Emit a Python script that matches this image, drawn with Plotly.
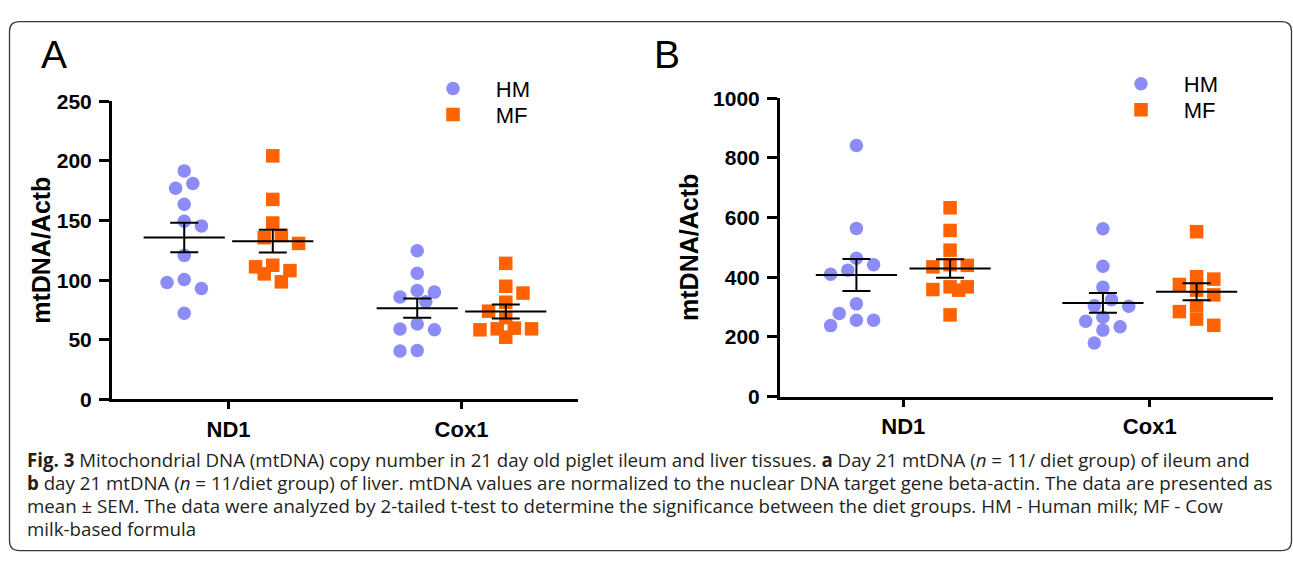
import numpy as np
import plotly.graph_objects as go

# ---------------- data ----------------
categories = ["ND1", "Cox1"]
groups = ["HM", "MF"]

ileum_HM_ND1 = [191.6, 181.1, 177.1, 163.7, 149.3, 145.5, 120.8, 100.5, 98.1, 93.0, 72.3]
ileum_MF_ND1 = [204.2, 167.7, 147.9, 137.5, 135.6, 130.8, 112.5, 111.2, 108.0, 105.3, 98.6]
ileum_HM_Cox1 = [124.6, 105.8, 91.4, 90.0, 86.0, 82.0, 63.2, 59.0, 58.4, 41.0, 40.7]
ileum_MF_Cox1 = [114.1, 94.9, 89.2, 81.5, 74.0, 68.6, 59.8, 59.2, 59.2, 58.4, 52.2]

liver_HM_ND1 = [842, 564, 464, 442, 424, 410, 311, 279, 256, 256, 238]
liver_MF_ND1 = [633, 557, 491, 442, 440, 435, 368, 368, 359, 357, 274]
liver_HM_Cox1 = [563, 437, 367, 325, 305, 303, 266, 253, 234, 223, 180]
liver_MF_Cox1 = [553, 402, 394, 376, 357, 341, 305, 285, 260, 239]

ileum_ticks = [0, 50, 100, 150, 200, 250]
liver_ticks = [0, 200, 400, 600, 800, 1000]

y_title = "mtDNA/Actb"
caption_lines = [
    "<b>Fig. 3</b> Mitochondrial DNA (mtDNA) copy number in 21 day old piglet ileum and liver tissues. "
    "<b>a</b> Day 21 mtDNA (<i>n</i> = 11/ diet group) of ileum and",
    "<b>b</b> day 21 mtDNA (<i>n</i> = 11/diet group) of liver. mtDNA values are normalized to the nuclear "
    "DNA target gene beta-actin. The data are presented as",
    "mean ± SEM. The data were analyzed by 2-tailed t-test to determine the significance between the "
    "diet groups. HM - Human milk; MF - Cow",
    "milk-based formula",
]

# ---------------- layout helpers ----------------
W, H = 1293, 563
def px2x(px):
    return px / W
def py2y(py):
    return 1 - py / H

FONT = "Liberation Sans, Arial, sans-serif"
HM_COLOR = "#8c8cf8"
MF_COLOR = "#ff6200"
MARK = 13.5

# panel geometry (pixels)
panels = {
    "A": dict(x0=112, x1=578, ytop=93, ybot=404, ymax=250, ticks=ileum_ticks,
              data={"HM": [ileum_HM_ND1, ileum_HM_Cox1], "MF": [ileum_MF_ND1, ileum_MF_Cox1]}),
    "B": dict(x0=780, x1=1273, ytop=90, ybot=401, ymax=1000, ticks=liver_ticks,
              data={"HM": [liver_HM_ND1, liver_HM_Cox1], "MF": [liver_MF_ND1, liver_MF_Cox1]}),
}


def swarm_offsets(vals, px_per_val, thr, step):
    """Simple beeswarm: horizontal pixel offsets (multiples of step) limiting overlap."""
    n = len(vals)
    ys = [v * px_per_val for v in vals]
    order = sorted(range(n), key=lambda i: -vals[i])
    placed, off = [], [0.0] * n
    side = 1
    for i in order:
        cands = [0, side, -side, 2 * side, -2 * side, 3 * side, -3 * side]
        best, best_pen = 0, None
        for c in cands:
            x = c * step
            dmin = min([np.hypot(x - px, ys[i] - py) for px, py in placed] or [1e9])
            pen = max(0.0, thr - dmin)
            if pen == 0:
                best, best_pen = c, 0
                break
            if best_pen is None or pen < best_pen - 1e-9:
                best, best_pen = c, pen
        if best != 0:
            side = -side
        placed.append((best * step, ys[i]))
        off[i] = best * step
    return off


fig = go.Figure()
group_shift = {"HM": -0.19, "MF": 0.19}
symbols = {"HM": "circle", "MF": "square"}
colors = {"HM": HM_COLOR, "MF": MF_COLOR}
legend_ids = {("A", "HM"): "legend", ("A", "MF"): "legend2",
              ("B", "HM"): "legend3", ("B", "MF"): "legend4"}
PAD = "\u00a0\u00a0\u00a0\u2009"

for pi, (pname, p) in enumerate(panels.items()):
    xa = "x" if pi == 0 else "x2"
    ya = "y" if pi == 0 else "y2"
    unit_px = (p["x1"] - p["x0"]) / 2.0          # px per category unit (range -0.5..1.5)
    px_per_val = (p["ybot"] - p["ytop"]) / p["ymax"]
    for g in groups:
        xs, ys = [], []
        for ci, vals in enumerate(p["data"][g]):
            offs = swarm_offsets(vals, px_per_val, 13.5, 8.6)
            xs += [ci + group_shift[g] + o / unit_px for o in offs]
            ys += list(vals)
        fig.add_trace(go.Scatter(
            x=xs, y=ys, mode="markers", name=PAD + g,
            xaxis=xa, yaxis=ya, legend=legend_ids[(pname, g)],
            marker=dict(symbol=symbols[g], size=MARK, color=colors[g], line=dict(width=0)),
            hoverinfo="y", cliponaxis=False,
        ))
    # mean +/- SEM
    for g in groups:
        mx, my, me = [], [], []
        for ci, vals in enumerate(p["data"][g]):
            arr = np.asarray(vals, dtype=float)
            mx.append(ci + group_shift[g])
            my.append(arr.mean())
            me.append(arr.std(ddof=1) / np.sqrt(len(arr)))
        fig.add_trace(go.Scatter(
            x=mx, y=my, mode="markers", showlegend=False, xaxis=xa, yaxis=ya,
            marker=dict(symbol="line-ew", size=58, color="black",
                        line=dict(width=2, color="black")),
            error_y=dict(type="data", array=me, visible=True, color="black",
                         thickness=2, width=14),
            hoverinfo="y", cliponaxis=False,
        ))

axis_common = dict(showline=True, linewidth=3, linecolor="black", showgrid=False,
                   zeroline=False, ticks="outside", tickwidth=3, tickcolor="black",
                   fixedrange=True)

for pi, (pname, p) in enumerate(panels.items()):
    sx = "" if pi == 0 else "2"
    fig.update_layout(**{
        "xaxis" + sx: dict(axis_common, domain=[px2x(p["x0"]), px2x(p["x1"])],
                           range=[-0.5, 1.5], tickvals=[0, 1], ticktext=categories,
                           ticklen=7, ticklabelstandoff=1,
                           tickfont=dict(family=FONT, size=22, color="black", weight="bold"),
                           anchor="y" + sx),
        "yaxis" + sx: dict(axis_common, domain=[py2y(p["ybot"]), py2y(p["ytop"])],
                           range=[0, p["ymax"]], tickvals=p["ticks"],
                           ticklen=10, ticklabelstandoff=3,
                           tickfont=dict(family=FONT, size=21, color="black", weight="bold"),
                           anchor="x" + sx),
    })

legend_common = dict(xanchor="left", yanchor="middle", bgcolor="rgba(0,0,0,0)",
                     borderwidth=0, font=dict(family=FONT, size=22, color="black"),
                     itemclick=False, itemdoubleclick=False)
fig.update_layout(
    legend=dict(legend_common, x=px2x(433), y=py2y(80)),
    legend2=dict(legend_common, x=px2x(433), y=py2y(107)),
    legend3=dict(legend_common, x=px2x(1121), y=py2y(75)),
    legend4=dict(legend_common, x=px2x(1121), y=py2y(102)),
)

annotations = [
    dict(text="A", x=px2x(39), y=py2y(44), xanchor="left", yanchor="middle",
         font=dict(family=FONT, size=39, color="black")),
    dict(text="B", x=px2x(652), y=py2y(44), xanchor="left", yanchor="middle",
         font=dict(family=FONT, size=39, color="black")),
    dict(text=y_title, x=px2x(41), y=py2y(249), textangle=-90, xanchor="center", yanchor="middle",
         font=dict(family=FONT, size=25, color="black", weight="bold")),
    dict(text=y_title, x=px2x(689), y=py2y(246), textangle=-90, xanchor="center", yanchor="middle",
         font=dict(family=FONT, size=25, color="black", weight="bold")),
]
for i, line in enumerate(caption_lines):
    annotations.append(dict(text=line, x=px2x(25), y=py2y(467 + 24 * i), xanchor="left",
                            yanchor="middle", align="left",
                            font=dict(family="Open Sans, sans-serif", size=18.7, color="#231f20")))
for a in annotations:
    a.update(xref="paper", yref="paper", showarrow=False)

# rounded frame
L, T, R, B, r = 9.5, 10, 1291.5, 561.5, 10
pts = [("M", L + r, T), ("L", R - r, T), ("Q", R, T, R, T + r), ("L", R, B - r),
       ("Q", R, B, R - r, B), ("L", L + r, B), ("Q", L, B, L, B - r), ("L", L, T + r),
       ("Q", L, T, L + r, T)]
path = ""
for cmd in pts:
    c, coords = cmd[0], cmd[1:]
    xy = []
    for k in range(0, len(coords), 2):
        xy.append(f"{px2x(coords[k]):.5f},{py2y(coords[k + 1]):.5f}")
    path += c + " " + " ".join(xy) + " "
path += "Z"

fig.update_layout(
    width=W, height=H, autosize=False,
    margin=dict(l=0, r=0, t=0, b=0, pad=0),
    paper_bgcolor="white", plot_bgcolor="white",
    annotations=annotations,
    shapes=[dict(type="path", path=path, xref="paper", yref="paper",
                 line=dict(color="#3a3a3a", width=1.3), fillcolor="rgba(0,0,0,0)")],
    hovermode="closest",
)

fig.write_html("out.html", config={"displayModeBar": False})
